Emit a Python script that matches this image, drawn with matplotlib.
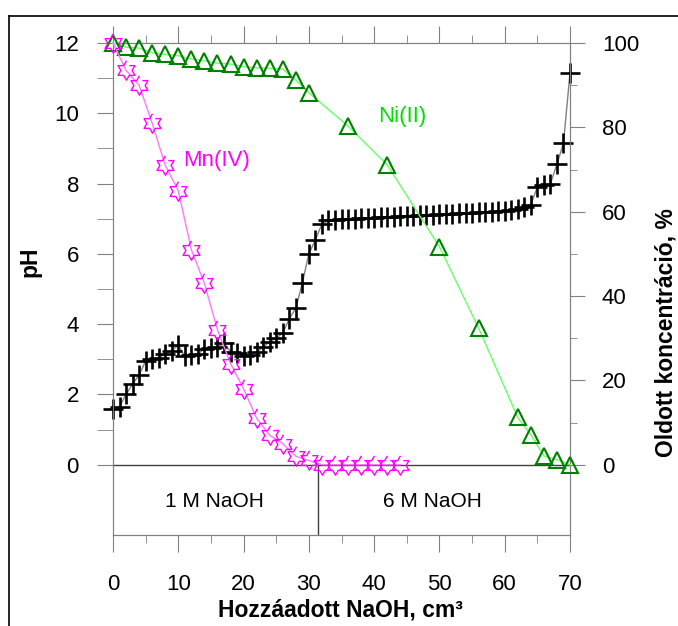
import numpy as np
import matplotlib
matplotlib.use("Agg")
import matplotlib.pyplot as plt
from matplotlib.lines import Line2D

plt.rcParams.update({"font.family": ["Liberation Sans", "DejaVu Sans"], "font.size": 16})

# ---- data ----
ph_x = [0, 1, 2, 3, 4, 5, 6, 7, 8, 9, 10, 11, 12, 13, 14, 15, 16, 17, 18, 19, 20,
        21, 22, 23, 24, 25, 26, 27, 28, 29, 30, 31, 32,
        33, 34, 35, 36, 37, 38, 39, 40, 41, 42, 43, 44, 45, 46, 47, 48, 49, 50,
        51, 52, 53, 54, 55, 56, 57, 58, 59, 60, 61, 62, 63,
        64, 65, 66, 67, 68, 69, 70]
ph_y = [1.58, 1.65, 2.0, 2.3, 2.55, 2.95, 3.0, 3.05, 3.15, 3.25, 3.4, 3.08, 3.12, 3.15, 3.3, 3.32, 3.35, 3.45, 3.22, 3.18, 3.08,
        3.12, 3.2, 3.35, 3.5, 3.6, 3.75, 4.15, 4.45, 5.17, 6.0, 6.4, 6.85,
        6.95, 6.97, 6.98, 7.0, 7.0, 7.01, 7.02, 7.03, 7.04, 7.05, 7.06, 7.07, 7.08, 7.09, 7.1, 7.1, 7.11, 7.12,
        7.13, 7.14, 7.15, 7.16, 7.17, 7.18, 7.19, 7.2, 7.22, 7.23, 7.25, 7.28, 7.32,
        7.4, 7.9, 7.95, 8.0, 8.55, 9.15, 11.15]

mn_x = [0, 2, 4, 6, 8, 10, 12, 14, 16, 18, 20, 22, 24, 26, 28, 30, 32, 34, 36, 38, 40, 42, 44]
mn_y = [100, 93.5, 90, 81, 71, 65, 51, 43, 32, 24, 18, 11, 7, 5, 2, 1, 0, 0, 0, 0, 0, 0, 0]

ni_x = [0, 2, 4, 6, 8, 10, 12, 14, 16, 18, 20, 22, 24, 26, 28, 30, 36, 42, 50, 56, 62, 64, 66, 68, 70]
ni_y = [100, 99, 98.8, 97.7, 97.3, 97, 96.2, 95.8, 95.2, 95, 94.4, 94.1, 94, 93.8, 91.2, 88.2,
        80.3, 71.1, 51.7, 32.4, 11.2, 7.1, 2.1, 1.2, 0]

# six-pointed star marker
ang = np.pi / 2 + np.arange(12) * np.pi / 6
rad = np.where(np.arange(12) % 2 == 0, 1.0, 0.577)
star = list(zip(rad * np.cos(ang), rad * np.sin(ang)))

W, H = 678, 626
fig = plt.figure(figsize=(W / 100, H / 100), dpi=100)
ax = fig.add_axes([113 / W, 1 - 535 / H, (570 - 113) / W, (535 - 43) / H])
ax2 = ax.twinx()

GR = "#808080"
ax.set_xlim(0, 70); ax.set_ylim(-2, 12)
ax2.set_ylim(-200 / 12, 100)

ax.plot(ph_x, ph_y, color=GR, lw=1, marker="+", ms=14, mew=1.9, mec="black", zorder=5, clip_on=False)
ax2.plot(ni_x, ni_y, color="#66FF66", lw=1, marker="^", ms=12, mfc="none", mec="#008000", mew=1.5,
         zorder=4, clip_on=False)
ax2.plot(mn_x, mn_y, color="#FF77FF", lw=1, marker=star, ms=14, mfc="none", mec="#FF00FF", mew=1.0,
         zorder=4, clip_on=False)

ax.axhline(0, color="#404040", lw=1)
ax.plot([31.4, 31.4], [-2, 0], color="#404040", lw=1)

for a in (ax, ax2):
    for s in a.spines.values():
        s.set_color(GR)
    a.patch.set_visible(False)

ax.set_xticks(np.arange(0, 71, 10))
ax.set_xticks(np.arange(5, 70, 10), minor=True)
ax.tick_params(axis="x", which="both", direction="out", top=True, bottom=True, labeltop=False, color=GR)
ax.tick_params(axis="x", which="major", length=12, pad=16)
ax.tick_params(axis="x", which="minor", length=6)

ax.set_yticks(np.arange(0, 13, 2))
ax.set_yticks(np.arange(1, 12, 2), minor=True)
ax.tick_params(axis="y", which="both", direction="out", length=11.5, pad=13, color=GR)

ax2.set_yticks(np.arange(0, 101, 20))
ax2.set_yticks(np.arange(10, 100, 20), minor=True)
ax2.tick_params(axis="y", which="major", direction="out", length=11, pad=12, color=GR)
ax2.tick_params(axis="y", which="minor", direction="out", length=5, color=GR)

ax.text(15.9, 8.67, "Mn(IV)", color="#FF00FF", ha="center", va="center", fontsize=16)
ax.text(44.3, 9.9, "Ni(II)", color="#00E000", ha="center", va="center", fontsize=16)
ax.text(15.6, -1.05, "1 M NaOH", ha="center", va="center", fontsize=15)
ax.text(49, -1.05, "6 M NaOH", ha="center", va="center", fontsize=15)

fig.text(340 / W, 1 - 610 / H, "Hozzáadott NaOH, cm³", ha="center", va="center", fontsize=16.5, fontweight="bold")
fig.text(30 / W, 1 - 262 / H, "pH", ha="center", va="center", rotation=90, fontsize=16.5, fontweight="bold")
fig.text(666 / W, 1 - 333 / H, "Oldott koncentráció, %", ha="center", va="center", rotation=90,
         fontsize=16.5, fontweight="bold")

# frame lines round the figure (left and top)
fig.add_artist(Line2D([9 / W, 9 / W], [0, 1 - 16 / H], color="black", lw=1.2))
fig.add_artist(Line2D([9 / W, 1], [1 - 16 / H, 1 - 16 / H], color="black", lw=1.2))

fig.savefig("out.png", dpi=100)
